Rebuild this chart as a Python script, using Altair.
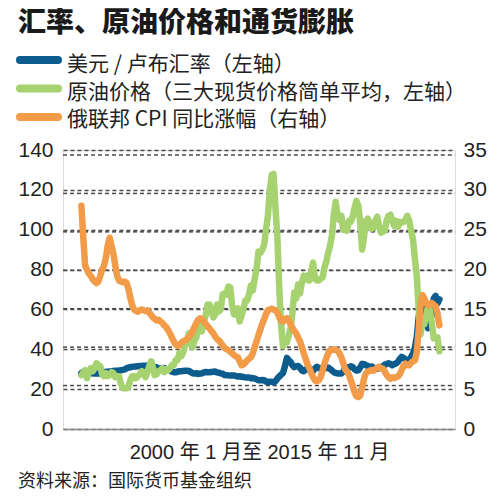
import altair as alt
import pandas as pd

# ---------------- data (monthly, 2000-01 .. 2015-11) ----------------
start = "2000-01-01"
n_months = 191

usd_rub = [
    28.0, 28.7, 28.7, 28.5, 28.3, 28.2, 27.9, 27.8, 27.8, 27.8, 27.8, 27.9,   # 2000
    28.3, 28.7, 28.7, 28.8, 28.9, 29.1, 29.2, 29.3, 29.4, 29.5, 29.7, 29.9,   # 2001
    30.5, 30.8, 31.0, 31.2, 31.3, 31.4, 31.5, 31.6, 31.6, 31.7, 31.8, 31.8,   # 2002
    31.8, 31.6, 31.4, 31.2, 30.9, 30.4, 30.4, 30.4, 30.6, 30.0, 29.8, 29.5,   # 2003
    28.8, 28.5, 28.5, 28.7, 29.0, 29.0, 29.1, 29.2, 29.2, 29.1, 28.6, 28.0,   # 2004
    27.9, 28.0, 27.6, 27.9, 27.9, 28.4, 28.6, 28.5, 28.5, 28.6, 28.7, 28.8,   # 2005
    28.4, 28.2, 27.9, 27.7, 27.1, 27.0, 26.9, 26.8, 26.8, 26.9, 26.6, 26.3,   # 2006
    26.5, 26.2, 26.1, 25.9, 25.8, 25.9, 25.5, 25.6, 25.3, 24.9, 24.5, 24.5,   # 2007
    24.6, 24.5, 23.8, 23.5, 23.7, 23.7, 23.4, 24.0, 25.3, 26.3, 27.3, 28.1,   # 2008
    31.5, 35.7, 34.6, 33.7, 32.0, 31.0, 31.5, 31.6, 30.8, 29.4, 29.0, 29.9,   # 2009
    29.8, 30.2, 29.6, 29.2, 30.4, 31.2, 30.6, 30.2, 30.8, 30.4, 30.7, 30.8,   # 2010
    30.1, 29.3, 28.5, 28.1, 27.9, 27.9, 27.9, 28.7, 30.6, 31.0, 30.7, 31.5,   # 2011
    31.1, 29.9, 29.3, 29.5, 30.9, 32.7, 32.5, 32.0, 31.6, 31.1, 31.4, 30.9,   # 2012
    30.3, 30.2, 30.8, 31.2, 31.3, 32.3, 32.6, 33.0, 32.6, 32.0, 32.6, 32.9,   # 2013
    33.7, 35.2, 36.2, 35.7, 34.9, 34.4, 34.7, 36.1, 37.9, 40.8, 46.3, 55.9,   # 2014
    64.0, 64.5, 60.2, 53.1, 50.6, 54.6, 57.2, 65.4, 66.8, 63.0, 65.0,         # 2015
]

oil_price = [
    27.0, 28.5, 29.5, 25.5, 28.5, 30.5, 29.0, 30.5, 33.0, 32.0, 31.5, 27.5,   # 2000
    26.5, 28.0, 26.5, 27.0, 28.5, 28.0, 26.0, 26.5, 26.5, 22.5, 20.5, 20.5,   # 2001
    20.5, 21.5, 24.5, 26.5, 26.5, 25.5, 26.5, 27.5, 29.0, 28.5, 26.0, 28.5,   # 2002
    31.5, 34.0, 31.0, 27.0, 27.5, 29.0, 29.5, 30.5, 28.5, 30.0, 29.5, 30.5,   # 2003
    32.0, 32.0, 34.5, 34.5, 38.0, 36.5, 38.5, 42.0, 43.0, 48.0, 43.5, 41.0,   # 2004
    44.5, 46.0, 52.5, 51.5, 49.0, 54.0, 57.0, 62.5, 62.5, 59.5, 56.0, 57.5,   # 2005
    62.5, 59.0, 60.0, 67.5, 68.0, 67.5, 71.5, 71.0, 62.0, 57.5, 57.5, 60.5,   # 2006
    54.0, 57.0, 60.0, 64.5, 64.5, 67.5, 72.0, 69.5, 75.5, 80.5, 89.0, 88.5,   # 2007
    90.0, 92.5, 100.0, 107.0, 119.0, 127.5, 128.0, 111.0, 96.0, 71.0, 52.0, 41.5,  # 2008
    44.5, 43.5, 46.5, 50.5, 58.0, 68.5, 65.5, 72.5, 68.0, 73.5, 77.0, 75.0,   # 2009
    77.0, 74.5, 79.0, 83.5, 75.5, 74.5, 74.5, 75.5, 76.0, 81.0, 84.0, 88.5,   # 2010
    92.0, 97.5, 107.5, 114.0, 107.0, 105.0, 107.0, 100.0, 100.5, 99.5, 104.5, 104.0,  # 2011
    106.5, 111.0, 114.5, 112.0, 103.5, 90.0, 96.5, 104.5, 105.5, 103.0, 100.5, 101.0,  # 2012
    104.5, 106.5, 102.0, 98.5, 99.0, 99.5, 104.5, 107.0, 107.5, 104.5, 102.0, 104.5,  # 2013
    101.5, 104.0, 103.5, 104.0, 105.0, 107.0, 104.5, 99.5, 95.0, 85.5, 76.5, 60.5,   # 2014
    47.5, 54.5, 52.5, 57.0, 61.5, 59.5, 53.5, 45.5, 46.0, 46.0, 39.0,         # 2015
]

cpi = [
    28.0, 24.0, 20.5, 20.0, 19.5, 19.2, 18.8, 18.5, 18.3, 18.5, 19.2, 20.0,   # 2000
    20.5, 21.5, 23.0, 24.0, 23.0, 22.0, 20.5, 19.2, 18.6, 18.5, 18.4, 18.5,   # 2001
    18.3, 17.5, 16.5, 15.5, 15.0, 14.8, 14.7, 14.9, 15.0, 14.9, 14.8, 14.9,   # 2002
    14.6, 14.3, 14.0, 13.8, 13.6, 13.7, 13.5, 13.3, 13.0, 12.8, 12.4, 12.0,   # 2003
    11.5, 11.0, 10.6, 10.4, 10.5, 10.8, 11.0, 11.1, 11.3, 11.5, 11.8, 12.3,   # 2004
    12.8, 13.3, 13.7, 13.9, 13.8, 13.5, 13.2, 12.9, 12.6, 12.3, 12.0, 11.6,   # 2005
    11.3, 11.1, 10.8, 10.5, 10.2, 10.0, 9.9, 9.7, 9.5, 9.3, 9.1, 9.0,         # 2006
    8.5, 8.0, 8.1, 8.3, 8.6, 8.8, 9.0, 9.5, 10.3, 11.0, 11.8, 12.5,           # 2007
    13.2, 13.8, 14.4, 14.9, 15.0, 15.1, 15.0, 14.9, 14.6, 14.0, 13.6, 13.5,   # 2008
    13.8, 13.9, 13.6, 13.2, 12.7, 12.3, 12.0, 11.5, 11.0, 10.3, 9.5, 8.8,     # 2009
    8.1, 7.6, 7.0, 6.5, 6.1, 6.0, 6.1, 6.5, 7.3, 8.2, 8.9, 9.5,               # 2010
    9.9, 9.9, 10.0, 9.9, 9.8, 9.5, 9.0, 8.3, 7.5, 7.2, 6.8, 6.1,              # 2011
    5.4, 4.6, 4.1, 4.0, 4.2, 5.2, 6.3, 7.0, 7.2, 7.3, 7.4, 7.3,               # 2012
    7.5, 7.7, 7.8, 7.6, 7.6, 7.2, 6.8, 6.5, 6.3, 6.5, 6.4, 6.5,               # 2013
    6.6, 6.9, 7.4, 7.9, 8.2, 8.0, 8.0, 8.3, 8.5, 8.6, 9.6, 12.5,              # 2014
    15.5, 16.8, 16.4, 15.8, 15.5, 15.7, 15.8, 15.6, 15.4, 14.5, 13.0,         # 2015
]

series_names = [
    "美元 / 卢布汇率（左轴）",
    "原油价格（三大现货价格简单平均，左轴）",
    "俄联邦 CPI 同比涨幅（右轴）",
]
series_colors = ["#0d5c8e", "#a6d26f", "#f29b48"]

title_text = "汇率、原油价格和通货膨胀"
x_title = "2000 年 1 月至 2015 年 11 月"
source_text = "资料来源：国际货币基金组织"
left_ticks = [0, 20, 40, 60, 80, 100, 120, 140]
right_ticks = [0, 5, 10, 15, 20, 25, 30, 35]

X_DOMAIN = ["1999-03-10", "2016-07-10"]

# ---------------- tables ----------------
dates = pd.date_range(start, periods=n_months, freq="MS")
frames = []
for name, vals in zip(series_names, [usd_rub, oil_price, cpi]):
    frames.append(pd.DataFrame({"date": dates[: len(vals)], "value": vals, "series": name}))
df = pd.concat(frames, ignore_index=True)
df["date"] = df["date"].dt.strftime("%Y-%m-%d")

left_df = df[df["series"].isin(series_names[:2])]
right_df = df[df["series"] == series_names[2]]
legend_df = pd.DataFrame({"series": series_names, "row": [0, 1, 2]})

# dashed horizontal grid lines at the left-axis ticks, one thin bar per dash
dash_starts = pd.date_range(X_DOMAIN[0], X_DOMAIN[1], freq="113D")
grid_rows = []
for t in [v for v in left_ticks if v > 0]:
    for d in dash_starts:
        e = min(d + pd.Timedelta(days=65), pd.Timestamp(X_DOMAIN[1]))
        grid_rows.append({"date": d.strftime("%Y-%m-%d"), "date_end": e.strftime("%Y-%m-%d"), "tick": t})
grid_df = pd.DataFrame(grid_rows)

FONT = "Liberation Sans, Noto Sans CJK SC, sans-serif"
CJK = "Noto Sans CJK SC, Liberation Sans, sans-serif"
W, H = 392, 279

color_scale = alt.Scale(domain=series_names, range=series_colors)

x_enc = alt.X(
    "date:T",
    scale=alt.Scale(domain=X_DOMAIN),
    axis=alt.Axis(
        labels=False, ticks=False, grid=False, domain=True,
        domainColor="#8a8a8a", domainWidth=1.5,
        title=x_title, titleFont=FONT, titleFontSize=20, titleFontWeight="normal",
        titleColor="#222222", titlePadding=13,
    ),
)

grid = alt.Chart(grid_df).mark_bar(color="#4a4a4a", size=1.5).encode(
    x=x_enc,
    x2="date_end:T",
    y=alt.Y("tick:Q", scale=alt.Scale(domain=[0, 140], nice=False), axis=None),
)

left = alt.Chart(left_df).mark_line(strokeWidth=6.5, strokeCap="round", strokeJoin="round").encode(
    x=x_enc,
    y=alt.Y(
        "value:Q",
        scale=alt.Scale(domain=[0, 140], nice=False),
        axis=alt.Axis(
            values=left_ticks, orient="left", domain=False, ticks=False,
            grid=True, gridDash=[4, 3], gridColor="#4a4a4a", gridWidth=1.5,
            labelFont=FONT, labelFontSize=21, labelColor="#222222", labelPadding=10,
            title=None,
        ),
    ),
    color=alt.Color("series:N", scale=color_scale, legend=None),
    detail="series:N",
    order=alt.Order("date:T"),
)

right = alt.Chart(right_df).mark_line(strokeWidth=6.5, strokeCap="round", strokeJoin="round").encode(
    x=x_enc,
    y=alt.Y(
        "value:Q",
        scale=alt.Scale(domain=[0, 35], nice=False),
        axis=alt.Axis(
            values=right_ticks, orient="right", domain=False, ticks=False, grid=False,
            labelFont=FONT, labelFontSize=21, labelColor="#222222", labelPadding=8,
            title=None,
        ),
    ),
    color=alt.Color("series:N", scale=color_scale, legend=None),
)

# legend drawn as its own small layer (swatch + label per series)
swatch_y = alt.Y("row:Q", scale=alt.Scale(domain=[0, 2], range=[-90, -33], nice=False, zero=False), axis=None)
label_y = alt.Y("row:Q", scale=alt.Scale(domain=[0, 2], range=[-85, -30], nice=False, zero=False), axis=None)
legend_swatch = alt.Chart(legend_df).mark_point(
    shape="stroke", size=1444, strokeWidth=8, strokeCap="round", filled=False, opacity=1
).encode(
    y=swatch_y,
    x=alt.value(-24),
    color=alt.Color("series:N", scale=color_scale, legend=None),
)
legend_label = alt.Chart(legend_df).mark_text(
    align="left", baseline="middle", font=CJK, fontSize=21, color="#222222"
).encode(
    y=label_y,
    x=alt.value(4),
    text="series:N",
)

source = alt.Chart(pd.DataFrame({"t": [source_text]})).mark_text(
    align="left", baseline="middle", font=CJK, fontSize=18, color="#222222"
).encode(x=alt.value(-45), y=alt.value(H + 53), text="t:N")

chart = (
    alt.layer(grid, left, right, legend_swatch, legend_label, source)
    .resolve_scale(y="independent")
    .properties(
        width=W, height=H,
        autosize=alt.AutoSizeParams(type="none"),
        padding={"left": 55, "top": 142, "right": 37, "bottom": 63},
        title=alt.TitleParams(
            text=title_text, anchor="start", frame="group", orient="top",
            font=CJK, fontSize=28, fontWeight=900, color="#1a1a1a",
            dx=-45, offset=6,
        ),
    )
    .configure_view(stroke=None)
    .configure(background="white")
)

chart.save("out.html", embed_options={"renderer": "svg", "actions": False})
